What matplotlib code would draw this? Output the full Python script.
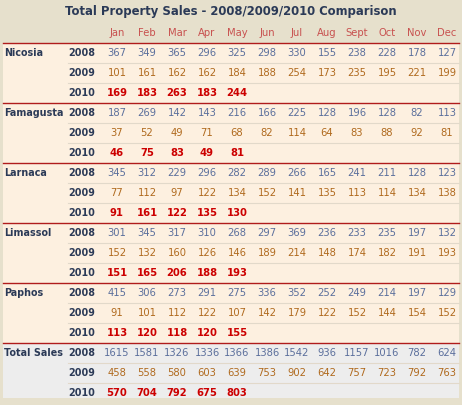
import matplotlib
matplotlib.use('Agg')
import matplotlib.pyplot as plt
from matplotlib.patches import Rectangle

title = 'Total Property Sales - 2008/2009/2010 Comparison'
months = ['Jan', 'Feb', 'Mar', 'Apr', 'May', 'Jun', 'Jul', 'Aug', 'Sept', 'Oct', 'Nov', 'Dec']
years = ['2008', '2009', '2010']
regions = ['Nicosia', 'Famagusta', 'Larnaca', 'Limassol', 'Paphos', 'Total Sales']

nicosia = [[367, 349, 365, 296, 325, 298, 330, 155, 238, 228, 178, 127],
           [101, 161, 162, 162, 184, 188, 254, 173, 235, 195, 221, 199],
           [169, 183, 263, 183, 244]]
famagusta = [[187, 269, 142, 143, 216, 166, 225, 128, 196, 128, 82, 113],
             [37, 52, 49, 71, 68, 82, 114, 64, 83, 88, 92, 81],
             [46, 75, 83, 49, 81]]
larnaca = [[345, 312, 229, 296, 282, 289, 266, 165, 241, 211, 128, 123],
           [77, 112, 97, 122, 134, 152, 141, 135, 113, 114, 134, 138],
           [91, 161, 122, 135, 130]]
limassol = [[301, 345, 317, 310, 268, 297, 369, 236, 233, 235, 197, 132],
            [152, 132, 160, 126, 146, 189, 214, 148, 174, 182, 191, 193],
            [151, 165, 206, 188, 193]]
paphos = [[415, 306, 273, 291, 275, 336, 352, 252, 249, 214, 197, 129],
          [91, 101, 112, 122, 107, 142, 179, 122, 152, 144, 154, 152],
          [113, 120, 118, 120, 155]]
totals = [[1615, 1581, 1326, 1336, 1366, 1386, 1542, 936, 1157, 1016, 782, 624],
          [458, 558, 580, 603, 639, 753, 902, 642, 757, 723, 792, 763],
          [570, 704, 792, 675, 803]]
table = [nicosia, famagusta, larnaca, limassol, paphos, totals]

W, H = 462, 405
fig = plt.figure(figsize=(W / 100, H / 100), dpi=100)
fig.patch.set_facecolor('#E6E0CC')
ax = fig.add_axes([0, 0, 1, 1])
ax.set_xlim(0, W)
ax.set_ylim(H, 0)
ax.axis('off')

navy = '#2B3A57'
year_colors = ['#5B6F9C', '#B06A1E', '#CC0000']
fs = 7.2

ax.text(W / 2, 12, title, ha='center', va='center', fontsize=8.4, color=navy, fontweight='bold')

col_x = [117 + 30 * i for i in range(12)]
for x, m in zip(col_x, months):
    ax.text(x, 33, m, ha='center', va='center', fontsize=fs, color='#C8514F')

top = 43
grp_h = 60
row_h = 20
for g, (name, data) in enumerate(zip(regions, table)):
    y0 = top + g * grp_h
    bg = '#EDEDED' if g == len(regions) - 1 else '#FDF0E0'
    h = 55 if g == len(regions) - 1 else grp_h
    ax.add_patch(Rectangle((3, y0), W - 6, h, facecolor=bg, edgecolor='none', zorder=0))
    ax.plot([3, W - 3], [y0, y0], color='#B01C1C', lw=1.0, zorder=2)
    for r in (1, 2):
        ax.plot([68, W - 3], [y0 + r * row_h, y0 + r * row_h], color='#E2D9CA', lw=0.8, zorder=1)
    ax.text(4, y0 + 10, name, ha='left', va='center', fontsize=6.9, color=navy, fontweight='bold')
    for r, yr in enumerate(years):
        yc = y0 + 10 + r * row_h
        ax.text(95, yc, yr, ha='right', va='center', fontsize=6.9, color=navy, fontweight='bold')
        for x, v in zip(col_x, data[r]):
            ax.text(x, yc, str(v), ha='center', va='center', fontsize=fs, color=year_colors[r],
                    fontweight='bold' if r == 2 else 'normal')

fig.savefig('out.png', dpi=100, facecolor=fig.get_facecolor())
